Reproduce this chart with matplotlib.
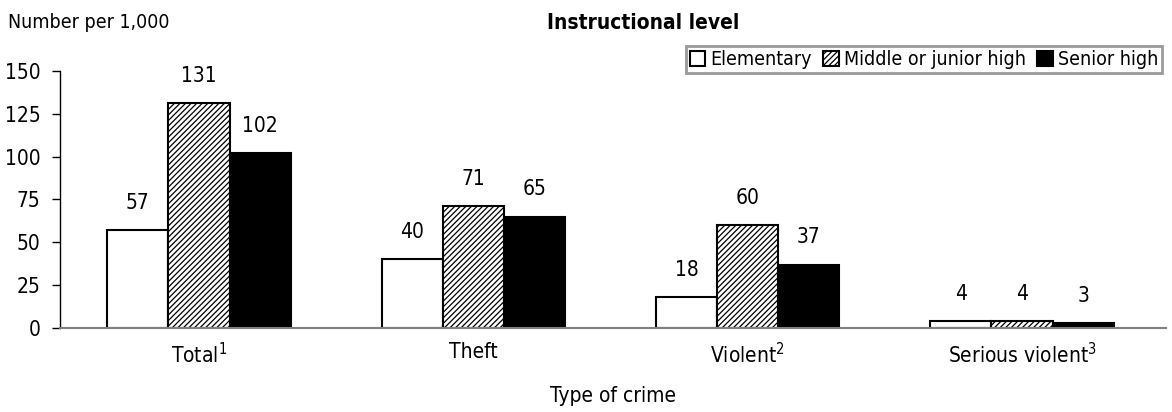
import matplotlib
matplotlib.use('Agg')
import matplotlib.pyplot as plt
from matplotlib import font_manager
import numpy as np

# narrow sans if one is around, else condensed DejaVu
names = {f.name for f in font_manager.fontManager.ttflist}
narrow = [n for n in ['Liberation Sans Narrow', 'Arial Narrow'] if n in names]
if narrow:
    plt.rcParams['font.family'] = [narrow[0], 'DejaVu Sans']
else:
    plt.rcParams['font.family'] = ['DejaVu Sans']
    plt.rcParams['font.stretch'] = 'condensed'
plt.rcParams['hatch.linewidth'] = 0.9

categories = ['Total$^{1}$', 'Theft', 'Violent$^{2}$', 'Serious violent$^{3}$']
series = ['Elementary', 'Middle or junior high', 'Senior high']
elementary = [57, 40, 18, 4]
middle = [131, 71, 60, 4]
senior = [102, 65, 37, 3]

fig = plt.figure(figsize=(11.72, 4.12), dpi=100)
ax = fig.add_axes([0.0512, 0.204, 0.9437, 0.624])

x = np.arange(len(categories))
w = 0.223
styles = [
    dict(facecolor='white', hatch=None),
    dict(facecolor='white', hatch='//////'),
    dict(facecolor='black', hatch=None),
]
for i, (vals, st, name) in enumerate(zip([elementary, middle, senior], styles, series)):
    bars = ax.bar(x + (i - 1) * w, vals, w, edgecolor='black', linewidth=1.5,
                  label=name, **st)
    for b, v in zip(bars, vals):
        ax.text(b.get_x() + b.get_width() / 2, v + 10, str(v),
                ha='center', va='bottom', fontsize=15)

ax.set_xlim(-0.507, 3.525)
ax.set_ylim(0, 150)
ax.set_yticks(np.arange(0, 151, 25))
ax.tick_params(axis='y', labelsize=15, length=6, width=1, pad=8)
ax.tick_params(axis='x', length=0, labelsize=15, pad=10)
ax.set_xticks(x)
ax.set_xticklabels(categories)
ax.set_xlabel('Type of crime', fontsize=15, labelpad=14)

for s in ['top', 'right']:
    ax.spines[s].set_visible(False)
ax.spines['bottom'].set_color('#808080')
ax.spines['bottom'].set_linewidth(1.5)
ax.spines['left'].set_linewidth(1)

leg = ax.legend(loc='upper right', ncol=3, fontsize=14, frameon=True,
                fancybox=False, edgecolor='#808080', handlelength=0.8,
                handleheight=0.8, handletextpad=0.25, columnspacing=0.6,
                borderpad=0.2, borderaxespad=0.2, bbox_to_anchor=(1.0, 1.11))
leg.get_frame().set_linewidth(2)

fig.text(0.007, 0.945, 'Number per 1,000', fontsize=14, va='center')
fig.text(0.549, 0.945, 'Instructional level', fontsize=15, fontweight='bold',
         ha='center', va='center')

fig.savefig('out.png', dpi=100)
